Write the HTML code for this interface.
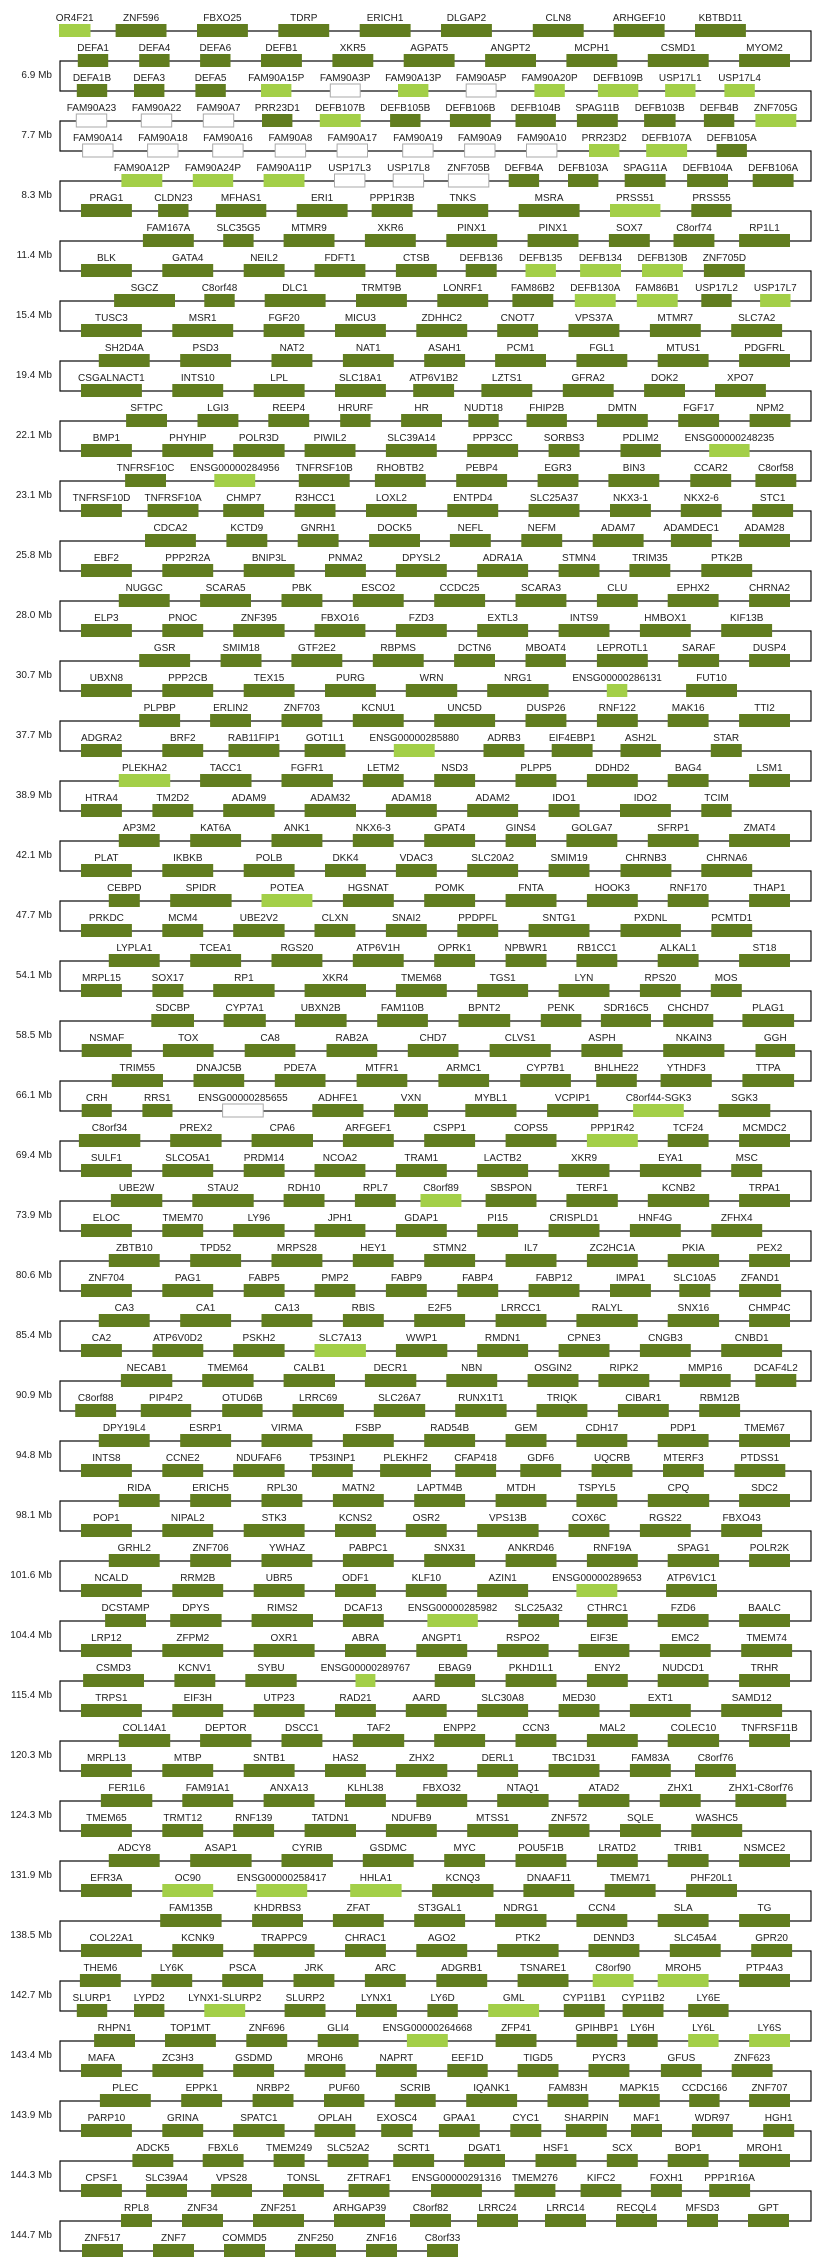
<!DOCTYPE html>
<html><head><meta charset="utf-8"><style>
html,body{margin:0;padding:0;background:#fff;}
svg{display:block;}
text{font-family:"Liberation Sans","DejaVu Sans",sans-serif;font-size:10px;fill:#222;}
</style></head><body>
<svg id="c" width="820" height="2262" xmlns="http://www.w3.org/2000/svg"></svg>
<script>
var R=[
["z","OR4F21 115 175 l,ZNF596 223 320,FBXO25 378 475,TDRP 533 630,ERICH1 688 785,DLGAP2 843 940,CLN8 1018 1115,ARHGEF10 1172 1269,KBTBD11 1327 1424"],
["z","DEFA1 151 209,DEFA4 268 326,DEFA6 384 442,DEFB1 500 578,XKR5 636 714,AGPAT5 772 869,ANGPT2 927 1024,MCPH1 1082 1179,CSMD1 1237 1353,MYOM2 1411 1508"],
["z","DEFA1B 149 207,DEFA3 258 316,DEFA5 375 433,FAM90A15P 500 558 l,FAM90A3P 632 689 w,FAM90A13P 761 819 l,FAM90A5P 891 948 w,FAM90A20P 1021 1079 l,DEFB109B 1142 1219 l,USP17L1 1270 1328 l,USP17L4 1383 1441 l"],
["z","FAM90A23 148 206 w,FAM90A22 272 330 w,FAM90A7 390 448 w,PRR23D1 502 560,DEFB107B 612 690 l,DEFB105B 746 804,DEFB106B 860 938,DEFB104B 985 1062,SPAG11B 1102 1180,DEFB103B 1230 1290,DEFB4B 1344 1402,ZNF705G 1442 1520 l"],
["z","FAM90A14 160 218 w,FAM90A18 284 342 w,FAM90A16 408 466 w,FAM90A8 527 585 w,FAM90A17 645 703 w,FAM90A19 770 828 w,FAM90A9 888 946 w,FAM90A10 1006 1064 w,PRR23D2 1125 1183 l,DEFB107A 1234 1312 l,DEFB105A 1368 1426"],
["z","FAM90A12P 234 312 l,FAM90A24P 370 447 l,FAM90A11P 505 583 l,USP17L3 640 698 w,USP17L8 752 810 w,ZNF705B 857 934 w,DEFB4A 972 1030,DEFB103A 1085 1143,SPAG11A 1193 1271,DEFB104A 1312 1390,DEFB106A 1437 1515"],
["z","PRAG1 157 254,CLDN23 304 362,MFHAS1 414 510,ERI1 568 665,PPP1R3B 711 789,TNKS 836 933,MSRA 991 1107,PRSS51 1165 1261 l,PRSS55 1320 1397"],
["z","FAM167A 275 372,SLC35G5 428 486,MTMR9 543 640,XKR6 698 795,PINX1 853 950,PINX1 1008 1105,SOX7 1163 1241,C8orf74 1286 1364,RP1L1 1411 1508"],
["z","BLK 157 254,GATA4 312 409,NEIL2 467 545,FDFT1 602 699,CTSB 757 835,DEFB136 890 949,DEFB135 1004 1062 l,DEFB134 1108 1186 l,DEFB130B 1226 1304 l,ZNF705D 1344 1422"],
["z","SGCZ 220 336,C8orf48 392 450,DLC1 507 623,TRMT9B 681 778,LONRF1 836 933,FAM86B2 979 1057,DEFB130A 1098 1176 l,FAM86B1 1216 1294 l,USP17L2 1339 1397,USP17L7 1451 1509 l"],
["z","TUSC3 157 273,MSR1 331 447,FGF20 505 583,MICU3 641 738,ZDHHC2 796 893,CNOT7 950 1028,VPS37A 1086 1183,MTMR7 1241 1338,SLC7A2 1396 1493"],
["z","SH2D4A 191 288,PSD3 346 443,NAT2 520 598,NAT1 656 753,ASAH1 811 889,PCM1 946 1043,FGL1 1101 1198,MTUS1 1256 1353,PDGFRL 1411 1508"],
["z","CSGALNACT1 157 273,INTS10 331 428,LPL 486 583,SLC18A1 641 738,ATP6V1B2 790 868,LZTS1 920 1017,GFRA2 1075 1172,DOK2 1230 1308,XPO7 1365 1462"],
["z","SFTPC 243 321,LGI3 379 457,REEP4 514 592,HRURF 651 709,HR 767 845,NUDT18 895 953,FHIP2B 1006 1083,DMTN 1140 1237,FGF17 1295 1373,NPM2 1431 1509"],
["z","BMP1 157 254,PHYHIP 312 409,POLR3D 447 545,PIWIL2 583 680,SLC39A14 738 835,PPP3CC 893 990,SORBS3 1048 1107,PDLIM2 1185 1262,ENSG00000248235 1354 1431 l"],
["z","TNFRSF10C 241 319,ENSG00000284956 411 489 l,TNFRSF10B 572 669,RHOBTB2 717 814,PEBP4 872 969,EGR3 1027 1105,BIN3 1162 1259,CCAR2 1318 1396,C8orf58 1442 1520"],
["z","TNFRSF10D 157 235,TNFRSF10A 284 381,CHMP7 428 506,R3HCC1 564 642,LOXL2 700 797,ENTPD4 855 952,SLC25A37 1010 1107,NKX3-1 1165 1243,NKX2-6 1300 1378,STC1 1436 1514"],
["z","CDCA2 279 376,KCTD9 434 512,GNRH1 570 648,DOCK5 706 803,NEFL 860 938,NEFM 996 1074,ADAM7 1132 1229,ADAMDEC1 1281 1359,ADAM28 1411 1508"],
["z","EBF2 157 254,PPP2R2A 312 409,BNIP3L 467 564,PNMA2 622 700,DPYSL2 757 854,ADRA1A 912 1009,STMN4 1067 1145,TRIM35 1202 1280,PTK2B 1339 1436"],
["z","NUGGC 229 326,SCARA5 384 481,PBK 539 617,ESCO2 675 772,CCDC25 830 927,SCARA3 985 1082,CLU 1140 1218,EPHX2 1275 1372,CHRNA2 1430 1508"],
["z","ELP3 157 254,PNOC 312 390,ZNF395 447 545,FBXO16 602 699,FZD3 757 854,EXTL3 912 1009,INTS9 1067 1164,HMBOX1 1222 1319,KIF13B 1377 1474"],
["z","GSR 268 365,SMIM18 423 501,GTF2E2 558 655,RBPMS 713 810,DCTN6 868 946,MBOAT4 1004 1081,LEPROTL1 1140 1237,SARAF 1295 1373,DUSP4 1430 1508"],
["z","UBXN8 157 254,PPP2CB 312 409,TEX15 467 564,PURG 622 719,WRN 776 874,NRG1 931 1048,ENSG00000286131 1159 1198 l,FUT10 1310 1407"],
["z","PLPBP 268 346,ERLIN2 403 481,ZNF703 539 617,KCNU1 675 772,UNC5D 830 946,DUSP26 1004 1082,RNF122 1140 1218,MAK16 1275 1353,TTI2 1411 1508"],
["z","ADGRA2 157 235,BRF2 312 390,RAB11FIP1 438 535,GOT1L1 583 661,ENSG00000285880 753 831 l,ADRB3 924 1002,EIF4EBP1 1054 1132,ASH2L 1185 1262,STAR 1357 1416"],
["z","PLEKHA2 229 327 l,TACC1 384 482,FGFR1 539 637,LETM2 694 772,NSD3 830 908,PLPP5 985 1063,DDHD2 1121 1218,BAG4 1275 1353,LSM1 1430 1508"],
["z","HTRA4 157 235,TM2D2 293 371,ADAM9 428 526,ADAM32 583 681,ADAM18 738 835,ADAM2 893 990,IDO1 1048 1107,IDO2 1184 1281,TCIM 1339 1397"],
["z","AP3M2 229 307,KAT6A 365 462,ANK1 520 617,NKX6-3 675 753,GPAT4 811 908,GINS4 966 1024,GOLGA7 1082 1179,SFRP1 1237 1334,ZMAT4 1392 1508"],
["z","PLAT 157 254,IKBKB 312 409,POLB 467 564,DKK4 622 700,VDAC3 757 835,SLC20A2 893 990,SMIM19 1048 1126,CHRNB3 1185 1282,CHRNA6 1339 1436"],
["z","CEBPD 210 269,SPIDR 327 444,POTEA 501 598 l,HGSNAT 656 753,POMK 811 908,FNTA 966 1063,HOOK3 1121 1218,RNF170 1275 1353,THAP1 1430 1508"],
["z","PRKDC 157 254,MCM4 312 390,UBE2V2 447 545,CLXN 602 680,SNAI2 738 816,PPDPFL 874 952,SNTG1 1010 1126,PXDNL 1185 1300,PCMTD1 1358 1436"],
["z","LYPLA1 210 307,TCEA1 365 462,RGS20 520 617,ATP6V1H 675 772,OPRK1 830 908,NPBWR1 966 1044,RB1CC1 1101 1179,ALKAL1 1256 1334,ST18 1411 1508"],
["z","MRPL15 157 235,SOX17 293 352,RP1 409 526,XKR4 583 700,TMEM68 757 854,TGS1 912 1009,LYN 1067 1164,RPS20 1222 1300,MOS 1357 1416"],
["y","SDCBP 290 371,CYP7A1 427 507,UBXN2B 562 660,FAM110B 718 814,BPNT2 872 970,PENK 1028 1105,SDR16C5 1142 1237,CHCHD7 1260 1355,PLAG1 1410 1508"],
["y","NSMAF 158 253,TOX 312 408,CA8 467 563,RAB2A 622 718,CHD7 776 872,CLVS1 931 1047,ASPH 1105 1183,NKAIN3 1260 1376,GGH 1435 1510"],
["y","TRIM55 215 312,DNAJC5B 370 466,PDE7A 524 620,MTFR1 679 775,ARMC1 834 930,CYP7B1 989 1085,BHLHE22 1133 1210,YTHDF3 1255 1352,TTPA 1410 1508"],
["y","CRH 158 215,RRS1 273 330,ENSG00000285655 425 502 w,ADHFE1 595 692,VXN 750 814,MYBL1 885 982,VCPIP1 1040 1137,C8orf44-SGK3 1203 1299 l,SGK3 1365 1463"],
["z","C8orf34 153 270,PREX2 327 425,CPA6 482 599,ARFGEF1 656 753,CSPP1 811 908,COPS5 966 1063,PPP1R42 1121 1218 l,TCF24 1275 1353,MCMDC2 1411 1508"],
["z","SULF1 157 254,SLCO5A1 312 409,PRDM14 467 545,NCOA2 602 699,TRAM1 757 854,LACTB2 912 1009,XKR9 1067 1164,EYA1 1222 1339,MSC 1396 1455"],
["z","UBE2W 214 312,STAU2 369 486,RDH10 543 621,RPL7 679 757,C8orf89 804 882 l,SBSPON 928 1025,TERF1 1082 1180,KCNB2 1237 1354,TRPA1 1411 1508"],
["z","ELOC 157 254,TMEM70 312 390,LY96 447 545,JPH1 602 699,GDAP1 757 854,PI15 912 990,CRISPLD1 1048 1145,HNF4G 1203 1300,ZFHX4 1358 1455"],
["z","ZBTB10 210 307,TPD52 365 462,MRPS28 520 617,HEY1 675 753,STMN2 811 908,IL7 966 1063,ZC2HC1A 1121 1218,PKIA 1275 1373,PEX2 1430 1508"],
["z","ZNF704 157 254,PAG1 312 409,FABP5 467 545,PMP2 602 680,FABP9 738 816,FABP4 874 952,FABP12 1010 1107,IMPA1 1165 1243,SLC10A5 1297 1356,ZFAND1 1411 1491"],
["z","CA3 191 288,CA1 346 443,CA13 501 598,RBIS 656 734,E2F5 792 889,LRRCC1 947 1044,RALYL 1101 1218,SNX16 1275 1373,CHMP4C 1430 1508"],
["z","CA2 157 235,ATP6V0D2 293 390,PSKH2 447 545,SLC7A13 602 700 l,WWP1 757 855,RMDN1 912 1009,CPNE3 1067 1164,CNGB3 1222 1319,CNBD1 1377 1493"],
["z","NECAB1 233 331,TMEM64 388 486,CALB1 543 641,DECR1 698 796,NBN 853 950,OSGIN2 1008 1105,RIPK2 1143 1240,MMP16 1298 1395,DCAF4L2 1442 1520"],
["z","C8orf88 146 224,PIP4P2 271 367,OTUD6B 426 503,LRRC69 560 658,SLC26A7 715 813,RUNX1T1 870 968,TRIQK 1025 1122,CIBAR1 1180 1277,RBM12B 1335 1413"],
["z","DPY19L4 191 288,ESRP1 346 443,VIRMA 501 598,FSBP 656 753,RAD54B 811 908,GEM 966 1044,CDH17 1101 1198,PDP1 1256 1353,TMEM67 1411 1508"],
["z","INTS8 157 254,CCNE2 312 390,NDUFAF6 447 545,TP53INP1 597 675,PLEKHF2 727 824,CFAP418 870 948,GDF6 994 1072,UQCRB 1130 1208,MTERF3 1266 1344,PTDSS1 1402 1499"],
["z","RIDA 229 307,ERICH5 365 443,RPL30 501 579,MATN2 637 734,LAPTM4B 792 889,MTDH 947 1044,TSPYL5 1101 1179,CPQ 1237 1354,SDC2 1411 1508"],
["z","POP1 157 254,NIPAL2 312 409,STK3 467 583,KCNS2 641 719,OSR2 776 854,VPS13B 912 1029,COX6C 1086 1164,RGS22 1222 1319,FBXO43 1377 1455"],
["z","GRHL2 210 307,ZNF706 365 443,YWHAZ 501 598,PABPC1 656 753,SNX31 811 908,ANKRD46 966 1063,RNF19A 1121 1218,SPAG1 1275 1373,POLR2K 1430 1508"],
["z","NCALD 157 273,RRM2B 331 428,UBR5 486 583,ODF1 641 719,KLF10 776 854,AZIN1 912 1009,ENSG00000289653 1101 1179 l,ATP6V1C1 1272 1369"],
["z","DCSTAMP 203 281,DPYS 327 425,RIMS2 482 599,DCAF13 656 734,ENSG00000285982 817 913 l,SLC25A32 990 1068,CTHRC1 1121 1199,FZD6 1256 1353,BAALC 1411 1508"],
["z","LRP12 157 254,ZFPM2 312 428,OXR1 486 602,ABRA 660 738,ANGPT1 796 893,RSPO2 950 1048,EIF3E 1105 1202,EMC2 1260 1357,TMEM74 1415 1512"],
["z","CSMD3 161 277,KCNV1 335 413,SYBU 470 568,ENSG00000289767 680 718 l,EBAG9 831 908,PKHD1L1 966 1063,ENY2 1121 1199,NUDCD1 1256 1353,TRHR 1411 1508"],
["z","TRPS1 157 273,EIF3H 331 428,UTP23 486 583,RAD21 641 719,AARD 776 854,SLC30A8 912 1009,MED30 1067 1145,EXT1 1203 1319,SAMD12 1377 1493"],
["z","COL14A1 229 327,DEPTOR 384 482,DSCC1 539 617,TAF2 675 773,ENPP2 830 927,CCN3 985 1063,MAL2 1121 1218,COLEC10 1275 1373,TNFRSF11B 1430 1508"],
["z","MRPL13 157 254,MTBP 312 409,SNTB1 467 564,HAS2 622 700,ZHX2 757 855,DERL1 912 990,TBC1D31 1048 1145,FAM83A 1203 1281,C8orf76 1327 1405"],
["z","FER1L6 195 293,FAM91A1 350 447,ANXA13 505 602,KLHL38 660 738,FBXO32 796 893,NTAQ1 950 1048,ATAD2 1105 1202,ZHX1 1260 1338,ZHX1-C8orf76 1404 1501"],
["z","TMEM65 157 254,TRMT12 312 390,RNF139 447 525,TATDN1 583 681,NDUFB9 738 835,MTSS1 893 990,ZNF572 1048 1126,SQLE 1184 1262,WASHC5 1320 1417"],
["z","ADCY8 210 307,ASAP1 365 482,CYRIB 539 637,GSDMC 694 791,MYC 849 927,POU5F1B 985 1082,LRATD2 1140 1218,TRIB1 1275 1353,NSMCE2 1411 1508"],
["z","EFR3A 157 254,OC90 312 409 l,ENSG00000258417 491 588 l,HHLA1 670 768 l,KCNQ3 826 943,DNAAF11 1000 1097,TMEM71 1155 1252,PHF20L1 1310 1407"],
["z","FAM135B 308 425,KHDRBS3 483 580,ZFAT 637 734,ST3GAL1 792 889,NDRG1 946 1044,CCN4 1101 1198,SLA 1256 1353,TG 1411 1508"],
["z","COL22A1 157 273,KCNK9 331 428,TRAPPC9 486 602,CHRAC1 660 738,AGO2 796 893,PTK2 950 1067,DENND3 1124 1221,SLC45A4 1279 1376,GPR20 1434 1512"],
["z","THEM6 155 233,LY6K 291 369,PSCA 426 504,JRK 562 640,ARC 698 776,ADGRB1 834 931,TSNARE1 989 1086,C8orf90 1132 1210 l,MROH5 1256 1353 l,PTP4A3 1411 1508"],
["z","SLURP1 149 207,LYPD2 258 316,LYNX1-SLURP2 392 470 l,SLURP2 545 623,LYNX1 681 759,LY6D 817 875,GML 933 1030 l,CYP11B1 1077 1155,CYP11B2 1189 1267,LY6E 1314 1391"],
["z","RHPN1 182 260,TOP1MT 317 414,ZNF696 472 550,GLI4 608 686,ENSG00000264668 778 856 l,ZFP41 947 1025,GPIHBP1 1101 1179,LY6H 1198 1256,LY6L 1314 1372 l,LY6S 1430 1508 l"],
["z","MAFA 157 235,ZC3H3 293 390,GSDMD 447 525,MROH6 583 661,NAPRT 719 797,EEF1D 855 932,TIGD5 989 1067,PYCR3 1124 1202,GFUS 1262 1340,ZNF623 1397 1475"],
["z","PLEC 193 290,EPPK1 348 426,NRBP2 484 562,PUF60 620 697,SCRIB 755 833,IQANK1 891 988,FAM83H 1046 1124,MAPK15 1182 1260,CCDC166 1316 1374,ZNF707 1430 1508"],
["z","PARP10 157 254,GRINA 312 390,SPATC1 447 545,OPLAH 602 680,EXOSC4 729 789,GPAA1 839 917,CYC1 975 1034,SHARPIN 1081 1159,MAF1 1205 1264,WDR97 1321 1399,HGH1 1457 1516"],
["z","ADCK5 255 333,FBXL6 389 467,TMEM249 524 583,SLC52A2 627 705,SCRT1 752 830,DGAT1 887 965,HSF1 1023 1101,SCX 1159 1218,BOP1 1275 1353,MROH1 1411 1508"],
["z","CPSF1 157 235,SLC39A4 281 359,VPS28 405 483,TONSL 542 620,ZFTRAF1 667 745,ENSG00000291316 824 921,TMEM276 983 1061,KIFC2 1109 1187,FOXH1 1243 1302,PPP1R16A 1354 1432"],
["r","RPL8 121 152,ZNF34 182 223,ZNF251 253 304,ARHGAP39 334 385,C8orf82 410 451,LRRC24 477 518,LRRC14 545 586,RECQL4 616 657,MFSD3 687 718,GPT 748 789"],
["r","ZNF517 82 123,ZNF7 153 194,COMMD5 224 265,ZNF250 295 336,ZNF16 366 397,C8orf33 427 458"]
];
var MB=["6.9","7.7","8.3","11.4","15.4","19.4","22.1","23.1","25.8","28.0","30.7","37.7","38.9","42.1","47.7","54.1","58.5","66.1","69.4","73.9","80.6","85.4","90.9","94.8","98.1","101.6","104.4","115.4","120.3","124.3","131.9","138.5","142.7","143.4","143.9","144.3","144.7"];
var L=60,RX=811,s=[];
function cv(t,v){v=+v;if(t=="z")return v*0.5248-1.4;if(t=="y")return v*0.5277-1.7;return v;}
var N=R.length;
for(var i=0;i<N;i++){
 var y=31+30*i,t=R[i][0],g=R[i][1].split(",");
 var boxes=g.map(function(q){var p=q.split(" ");return {n:p[0],a:cv(t,p[1]),b:cv(t,p[2]),c:p[3]||"d"};});
 var x1=(i==0)?boxes[0].a:L, x2=(i==N-1)?boxes[boxes.length-1].b:RX;
 s.push('<line x1="'+x1+'" y1="'+y+'" x2="'+x2+'" y2="'+y+'" stroke="#111" stroke-width="1.2"/>');
 if(i<N-1){var cx=(i%2==0)?RX:L;s.push('<line x1="'+cx+'" y1="'+(y-0.6)+'" x2="'+cx+'" y2="'+(y+30.6)+'" stroke="#111" stroke-width="1.2"/>');}
 boxes.forEach(function(b){
  var f=b.c=="l"?"#a3cf48":(b.c=="w"?"#fff":"#617d1f"),st=b.c=="w"?' stroke="#aaa" stroke-width="1"':'';
  s.push('<rect x="'+b.a.toFixed(1)+'" y="'+(y-7)+'" width="'+(b.b-b.a).toFixed(1)+'" height="13" fill="'+f+'"'+st+'/>');
  s.push('<text x="'+((b.a+b.b)/2).toFixed(1)+'" y="'+(y-10)+'" text-anchor="middle">'+b.n+'</text>');
 });
}
for(var k=0;k<MB.length;k++){var ym=31+30*(2*k+1)+15;s.push('<text x="52" y="'+(ym+2)+'" text-anchor="end">'+MB[k]+' Mb</text>');}
document.getElementById("c").innerHTML=s.join("");
</script>
</body></html>
